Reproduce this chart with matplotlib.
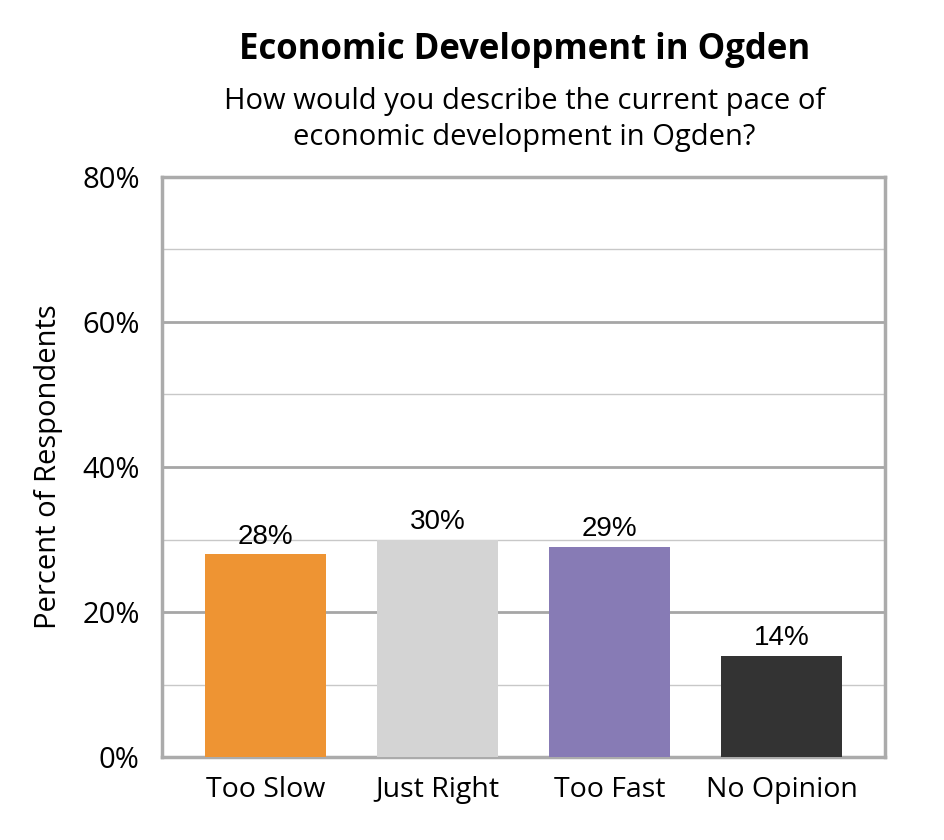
"""
Economic Development in Ogden - bar chart.
"""

import matplotlib.pyplot as plt
from matplotlib.ticker import MultipleLocator, PercentFormatter

categories = ['Too Slow', 'Just Right', 'Too Fast', 'No Opinion']
percents = [28, 30, 29, 14]
bar_colors = ['#EE9433', '#D4D4D4', '#877BB5', '#333333']
y_ticks = [0, 20, 40, 60, 80]

plt.rcParams['font.family'] = ['Open Sans', 'DejaVu Sans']

fig = plt.figure(figsize=(9.45, 8.4), dpi=100)
ax = fig.add_axes([0.1714, 0.0988, 0.7651, 0.6905])

x = range(len(categories))
bars = ax.bar(x, percents, width=0.70, color=bar_colors, zorder=3)

ax.set_xlim(-0.6, len(categories) - 0.4)
ax.set_ylim(0, 80)
ax.set_yticks(y_ticks)
ax.yaxis.set_major_formatter(PercentFormatter(decimals=0))
ax.yaxis.set_minor_locator(MultipleLocator(10))
ax.set_xticks(list(x))
ax.set_xticklabels(categories)

ax.grid(axis='y', which='major', color='#A6A6A6', linewidth=2, zorder=0)
ax.grid(axis='y', which='minor', color='#C8C8C8', linewidth=1, zorder=0)
ax.tick_params(axis='both', which='both', length=0, labelsize=20.5)
ax.tick_params(axis='y', labelsize=21, pad=16)
ax.tick_params(axis='x', pad=14)
for spine in ax.spines.values():
    spine.set_color('#ABABAB')
    spine.set_linewidth(2.5)

ax.set_ylabel('Percent of Respondents', fontsize=21, labelpad=14)

# Цифры над столбцами
for bar, val in zip(bars, percents):
    ax.text(bar.get_x() + bar.get_width() / 2, bar.get_height() + 0.6,
            f'{val}%', ha='center', va='bottom', fontsize=20,
            family='Liberation Sans')

fig.text(0.555, 0.940, 'Economic Development in Ogden', ha='center',
         va='center', fontsize=25, fontweight='bold')
fig.text(0.555, 0.858, 'How would you describe the current pace of\n'
         'economic development in Ogden?', ha='center', va='center',
         fontsize=21, linespacing=1.3)

plt.savefig('out.png', dpi=100)
plt.close()
